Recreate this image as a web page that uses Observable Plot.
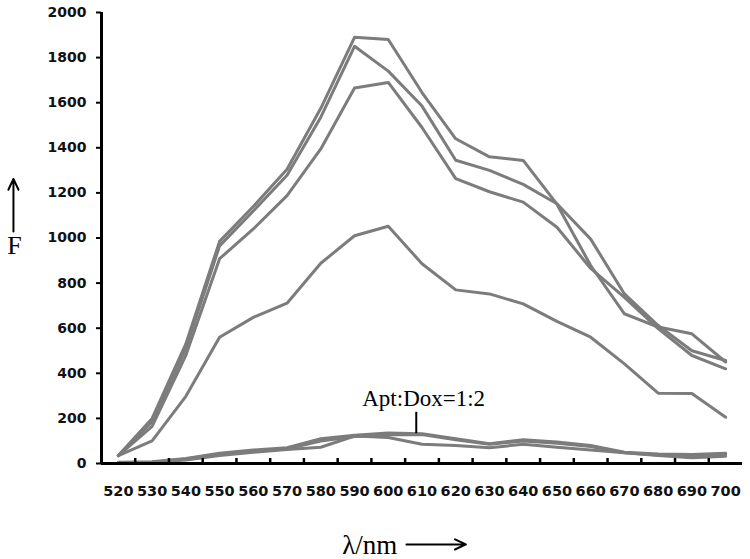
<!DOCTYPE html>
<html><head><meta charset="utf-8">
<script src="https://cdn.jsdelivr.net/npm/d3@7"></script>
<script src="https://cdn.jsdelivr.net/npm/@observablehq/plot@0.6"></script>
<style>
body{margin:0;background:#fff;}
#chart svg{display:block}
</style></head><body><div id="chart"></div>
<script>
// wavelength categories (nm)
const wavelengths = [520,530,540,550,560,570,580,590,600,610,620,630,640,650,660,670,680,690,700];
// fluorescence series
const seriesA = [35,200,530,985,1140,1305,1575,1890,1880,1645,1440,1360,1344,1150,878,664,605,575,450];
const seriesB = [35,185,510,965,1120,1278,1536,1850,1740,1585,1345,1300,1238,1152,995,752,612,500,457];
const seriesC = [35,165,480,908,1040,1188,1395,1665,1690,1490,1263,1205,1159,1048,865,737,598,479,420];
const seriesD = [35,100,298,560,648,711,888,1010,1052,886,770,752,708,630,560,442,312,310,205];
const seriesE = [5,8,22,45,60,70,110,125,135,132,110,88,105,95,80,50,42,40,45];
const seriesF = [3,6,20,40,55,65,100,120,128,128,105,85,100,90,75,48,38,30,40];
const seriesG = [2,4,15,35,50,62,72,122,115,85,80,70,85,72,60,48,35,25,32];
// axis ticks
const yTicks = [0,200,400,600,800,1000,1200,1400,1600,1800,2000];
const xBoundaries = [525,535,545,555,565,575,585,595,605,615,625,635,645,655,665,675,685,695];
// annotations
const noteLabel = [{x: 610.5, y: 253, text: "Apt:Dox=1:2"}];
const notePointer = [{x: 608.3, y1: 132, y2: 227}];
const axisArrows = [
  {x1: 488.9, y1: 1029, x2: 488.9, y2: 1262},
  {x1: 605.4, y1: -359, x2: 623.0, y2: -359}
];

const seriesList = {A: seriesA, B: seriesB, C: seriesC, D: seriesD, E: seriesE, F: seriesF, G: seriesG};
const rows = [];
for (const [name, vals] of Object.entries(seriesList)) {
  vals.forEach((v, i) => rows.push({series: name, wl: wavelengths[i], F: v}));
}

const plot = Plot.plot({
  width: 750, height: 559,
  marginLeft: 101, marginRight: 8, marginTop: 12, marginBottom: 96,
  x: {domain: [515, 705]},
  y: {domain: [0, 2000]},
  style: {background: "white", fontFamily: "DejaVu Sans", overflow: "visible"},
  marks: [
    Plot.line(rows, {x: "wl", y: "F", z: "series", stroke: "#7c7c7c", strokeWidth: 3, strokeLinejoin: "round"}),
    Plot.ruleX([515], {stroke: "black", strokeWidth: 3}),
    Plot.ruleY([0], {stroke: "black", strokeWidth: 3}),
    Plot.axisY(yTicks, {tickSize: 5, tickPadding: 10, fontSize: 14, fontWeight: "bold", stroke: "black", strokeWidth: 2, fill: "#111", label: null, tickFormat: d => String(d)}),
    Plot.axisX(xBoundaries, {tickSize: -5, tickFormat: () => "", stroke: "black", strokeWidth: 2.5, label: null}),
    Plot.axisX(wavelengths, {tickSize: 0, tickPadding: 22, fontSize: 14.5, fontWeight: "bold", fill: "#111", label: null, tickFormat: d => String(d)}),
    Plot.ruleX(notePointer, {x: "x", y1: "y1", y2: "y2", stroke: "black", strokeWidth: 2}),
    Plot.text(noteLabel, {x: "x", y: "y", text: "text", fontFamily: "Liberation Serif", fontSize: 23, lineAnchor: "bottom", fill: "black"}),
    Plot.text(["F"], {frameAnchor: "left", text: d => d, dx: -87, dy: 15.5, fontFamily: "Liberation Serif", fontSize: 26, textAnchor: "middle", lineAnchor: "bottom", fill: "black"}),
    Plot.arrow(axisArrows, {x1: "x1", y1: "y1", x2: "x2", y2: "y2", stroke: "black", strokeWidth: 2, headLength: 9, headAngle: 50, clip: false}),
    Plot.text(["\u03BB/nm"], {frameAnchor: "bottom-left", text: d => d, dx: 240.7, dy: 90, fontFamily: "Liberation Serif", fontSize: 27, textAnchor: "start", lineAnchor: "bottom", fill: "black"})
  ]
});
document.getElementById("chart").appendChild(plot);
</script></body></html>
